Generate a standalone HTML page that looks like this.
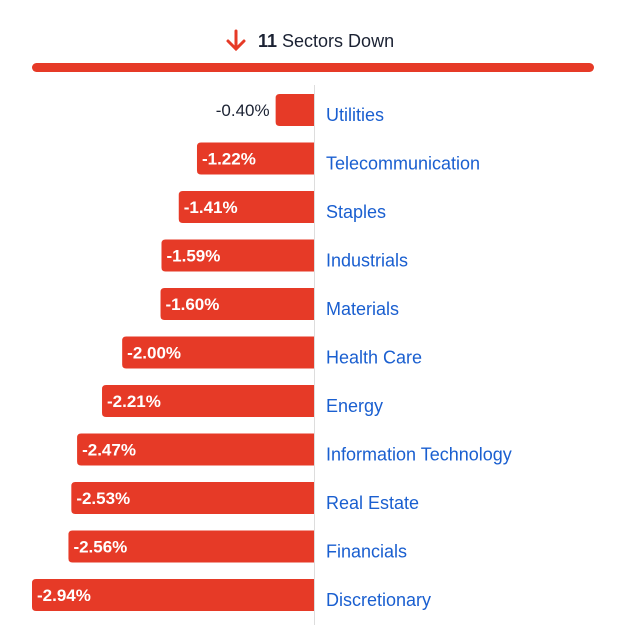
<!DOCTYPE html>
<html><head><meta charset="utf-8"><style>
body{margin:0;background:#fff;font-family:"Liberation Sans",sans-serif;}
#wrap{position:relative;width:640px;height:640px;overflow:hidden;}
</style></head><body>
<div id="wrap">
<svg id="chart" width="640" height="640">
  <g>
    <path d="M236 31 L236 48 M228 41 L236 49 L244 41" stroke="#e63a27" stroke-width="3" fill="none" stroke-linecap="round"/>
    <text x="258" y="47" font-size="18" fill="#1b2233"><tspan font-weight="bold">11</tspan> Sectors Down</text>
    <rect x="32" y="63" width="562" height="9" rx="4.5" fill="#e63a27"/>
  </g>
  <line x1="314.5" y1="85" x2="314.5" y2="625" stroke="#dddddd" stroke-width="1"/>
  <g id="bars"></g>
</svg>
</div>
<script>
const categories=["Utilities","Telecommunication","Staples","Industrials","Materials","Health Care","Energy","Information Technology","Real Estate","Financials","Discretionary"];
const values=[-0.40,-1.22,-1.41,-1.59,-1.60,-2.00,-2.21,-2.47,-2.53,-2.56,-2.94];
const labels=["-0.40%","-1.22%","-1.41%","-1.59%","-1.60%","-2.00%","-2.21%","-2.47%","-2.53%","-2.56%","-2.94%"];
const ns="http://www.w3.org/2000/svg";
const zeroX=314, pxPer=282/2.94;
function xScale(v){return zeroX+v*pxPer;}
function yScale(i){return 110+i*48.5;}
const g=document.getElementById('bars');
categories.forEach((c,i)=>{
  const v=values[i], x0=xScale(v), w=zeroX-x0, yc=yScale(i), h=32, y=yc-h/2, r=4;
  const p=document.createElementNS(ns,'path');
  p.setAttribute('d',`M${zeroX} ${y} L${x0+r} ${y} Q${x0} ${y} ${x0} ${y+r} L${x0} ${y+h-r} Q${x0} ${y+h} ${x0+r} ${y+h} L${zeroX} ${y+h} Z`);
  p.setAttribute('fill','#e63a27');
  
  
  g.appendChild(p);
  const t=document.createElementNS(ns,'text');
  t.setAttribute('font-size','17');
  t.setAttribute('y',yc+6);
  if(w>75){t.setAttribute('x',x0+5);t.setAttribute('fill','#fff');t.setAttribute('font-weight','bold');}
  else{t.setAttribute('x',x0-6);t.setAttribute('text-anchor','end');t.setAttribute('fill','#1b2233');}
  t.textContent=labels[i];
  
  
  g.appendChild(t);
  const l=document.createElementNS(ns,'text');
  l.setAttribute('x',326);l.setAttribute('y',yc+11);
  l.setAttribute('font-size','18');l.setAttribute('fill','#1a5fd0');
  l.textContent=c;
  
  
  g.appendChild(l);
});
</script>
</body></html>
